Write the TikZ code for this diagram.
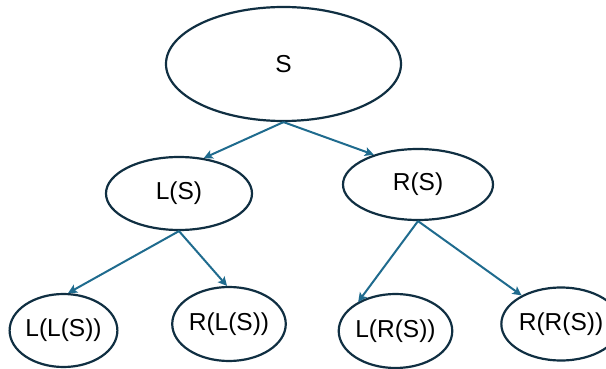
\documentclass[tikz,border=0pt]{standalone}
\usepackage{fontspec}
\setmainfont{Liberation Sans}
\usepackage{tikz}
\usetikzlibrary{positioning,arrows.meta,shapes}
\definecolor{palNavy}{HTML}{102F42}
\definecolor{palTeal}{HTML}{1F6B8E}
\tikzset{
  setnode/.style={draw=palNavy, ellipse, line width=2.2pt, inner sep=0pt,
                  font=\fontsize{24.5}{29}\selectfont},
  maparrow/.style={-{Stealth[length=9pt, width=9pt, inset=2pt]}, line width=2pt,
                   draw=palTeal, fill=palTeal},
}
\begin{document}
\begin{tikzpicture}[x=1pt, y=-1pt]
\useasboundingbox (0,0) rectangle (606,369);

%% Root
\node[setnode, minimum width=235pt, minimum height=114pt] (s) at (283.5,64) {S};

%% First level
\node[setnode, minimum width=146pt, minimum height=73pt] (ls) at (179,193.5) {L(S)};
\node[setnode, minimum width=150pt, minimum height=71pt] (rs) at (418,184.5) {R(S)};

%% Second level
\node[setnode, minimum width=107pt, minimum height=73pt] (lls) at (63.5,330.5) {L(L(S))};
\node[setnode, minimum width=112pt, minimum height=74pt] (rls) at (229,324) {R(L(S))};
\node[setnode, minimum width=107pt, minimum height=74pt] (lrs) at (395.5,331) {L(R(S))};
\node[setnode, minimum width=100pt, minimum height=73pt] (rrs) at (561,324) {R(R(S))};

%% Arrows
\draw[maparrow] (s.south) -- (ls.55);
\draw[maparrow] (s.south) -- (rs.146);
\draw[maparrow] (ls.south) -- (lls.83);
\draw[maparrow] (ls.south) -- (rls.93);
\draw[maparrow] (rs.south) -- (lrs.142);
\draw[maparrow] (rs.south) -- (rrs.144);
\end{tikzpicture}
\end{document}
